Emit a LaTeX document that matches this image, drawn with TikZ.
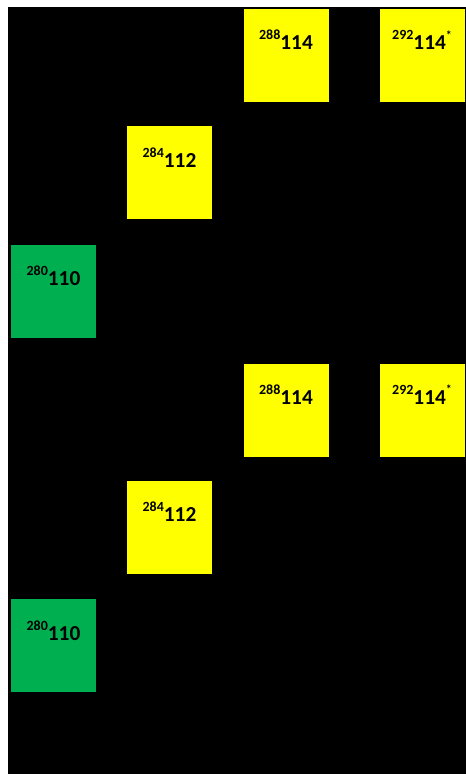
\documentclass[tikz,border=0pt]{standalone}
\usepackage{fontspec}
\setmainfont{Carlito}
\definecolor{nucyellow}{HTML}{FFFF00}
\definecolor{nucgreen}{HTML}{00B050}
\newcommand{\nucl}[2]{\raisebox{7.5pt}{\fontsize{10.5}{12}\selectfont #1}#2}
\newcommand{\excited}{\raisebox{8pt}{\fontsize{9}{11}\selectfont *}}
\begin{document}
\begin{tikzpicture}[x=0.75pt,y=-0.75pt,
  nuc/.style={minimum width=63.75pt,minimum height=69.75pt,inner xsep=0pt,inner ysep=0pt,
    text height=30.75pt,text depth=39pt,font=\fontsize{16}{19}\selectfont\bfseries},
  yel/.style={nuc,fill=nucyellow},
  grn/.style={nuc,fill=nucgreen}]
  \useasboundingbox (0,0) rectangle (466,774);
  \fill[white] (0,0) rectangle (466,774);
  \fill[black] (8,7) rectangle (466,774);
  % two decay chains, one below the other
  \foreach \b/\dy in {a/0,b/354.5} {
    \node[yel] (fl\b) at (286,55.5+\dy) {\nucl{288}{114}};
    \node[yel] (flx\b) at (422,55.5+\dy) {\nucl{292}{114}\excited};
    \node[yel] (cn\b) at (169.5,172.5+\dy) {\nucl{284}{112}};
    \node[grn] (ds\b) at (53.5,291+\dy) {\nucl{280}{110}};
  }
\end{tikzpicture}
\end{document}
